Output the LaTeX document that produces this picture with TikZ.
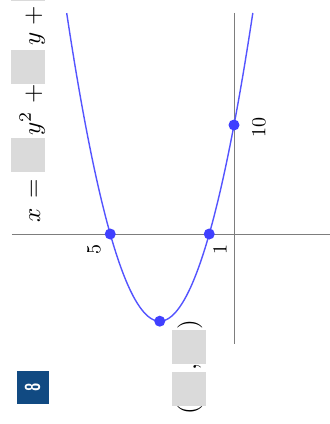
\documentclass[tikz,border=0pt]{standalone}
\usepackage{amsmath}
\usepackage{graphicx}
\usepackage{xcolor}
\usepackage{tikz}
\usetikzlibrary{arrows.meta}

\definecolor{curveblue}{RGB}{84,84,255}
\definecolor{dotblue}{RGB}{64,64,255}
\definecolor{axisgray}{RGB}{125,125,125}
\definecolor{blankgray}{RGB}{218,218,218}
\definecolor{badgeblue}{RGB}{17,74,130}

\newcommand{\eqglyph}[1]{\scalebox{2.5}{#1}}
\newcommand{\tickglyph}[1]{\scalebox{2}{#1}}

\begin{document}
\begin{tikzpicture}[x=1pt, y=-1pt, >=Latex]
    \tikzstyle{eq} = [rotate=90, anchor=base, inner sep=0pt]
    \tikzstyle{blank} = [rectangle, fill=blankgray, minimum width=34pt, minimum height=34pt, inner sep=0pt]
    \tikzstyle{tick} = [rotate=90, inner sep=0pt]
    \tikzstyle{pt} = [circle, fill=dotblue, inner sep=0pt, minimum size=11pt]
    \tikzstyle{axis} = [draw=axisgray, line width=0.9pt]
    \tikzstyle{curve} = [draw=curveblue, line width=1.4pt]
    \tikzstyle{badge} = [rectangle, fill=badgeblue, minimum width=32pt, minimum height=33pt, inner sep=0pt]

    \clip (0,0) rectangle (330,424);
    \fill[white] (0,0) rectangle (330,424);

    % equation with blanks, read upwards
    \node [eq] (eqx) at (40,215) {\eqglyph{$x$}};
    \node [eq] (eqsign) at (40,188.5) {\eqglyph{$=$}};
    \node [blank] (coefa) at (28,155) {};
    \node [eq] (ysq) at (40,123) {\eqglyph{$y^2$}};
    \node [eq] (plusa) at (40,94) {\eqglyph{$+$}};
    \node [blank] (coefb) at (28,66.5) {};
    \node [eq] (ylin) at (40,39) {\eqglyph{$y$}};
    \node [eq] (plusb) at (40,16) {\eqglyph{$+$}};
    \node [blank] (coefc) at (28,-16) {};

    % parabola x = 2y^2 - 12y + 10, turned on its side
    \begin{scope}[shift={(234,234)}, x={(0pt,10.9pt)}, y={(-24.75pt,0pt)}]
        \draw [axis] (0,8.97) -- (0,-3.9);
        \draw [axis] (20.28,0) -- (-10.09,0);
        \draw [curve] plot[domain=-0.76:6.76, samples=90, smooth] ({2*\x*\x-12*\x+10}, \x);
        \node [pt] (rootfive) at (0,5) {};
        \node [pt] (rootone) at (0,1) {};
        \node [pt] (xcut) at (10,0) {};
        \node [pt] (vertex) at (-8,3) {};
    \end{scope}

    % tick labels
    \node [tick] (labfive) at (94,249) {\tickglyph{5}};
    \node [tick] (labone) at (220,249) {\tickglyph{1}};
    \node [tick] (labten) at (259,127) {\tickglyph{10}};

    % vertex as an ordered pair with blanks
    \node [eq] (parl) at (196,410) {\eqglyph{$($}};
    \node [blank] (vtxb) at (188.5,388.5) {};
    \node [eq] (comma) at (196,367.5) {\eqglyph{$,$}};
    \node [blank] (vtxa) at (188.5,346.5) {};
    \node [eq] (parr) at (196,325) {\eqglyph{$)$}};

    % problem number
    \node [badge] (num) at (32.5,387.5) {};
    \node [rotate=90, text=white] (numtext) at (num.center) {\scalebox{1.5}[2.1]{\sffamily\bfseries 8}};
\end{tikzpicture}
\end{document}
